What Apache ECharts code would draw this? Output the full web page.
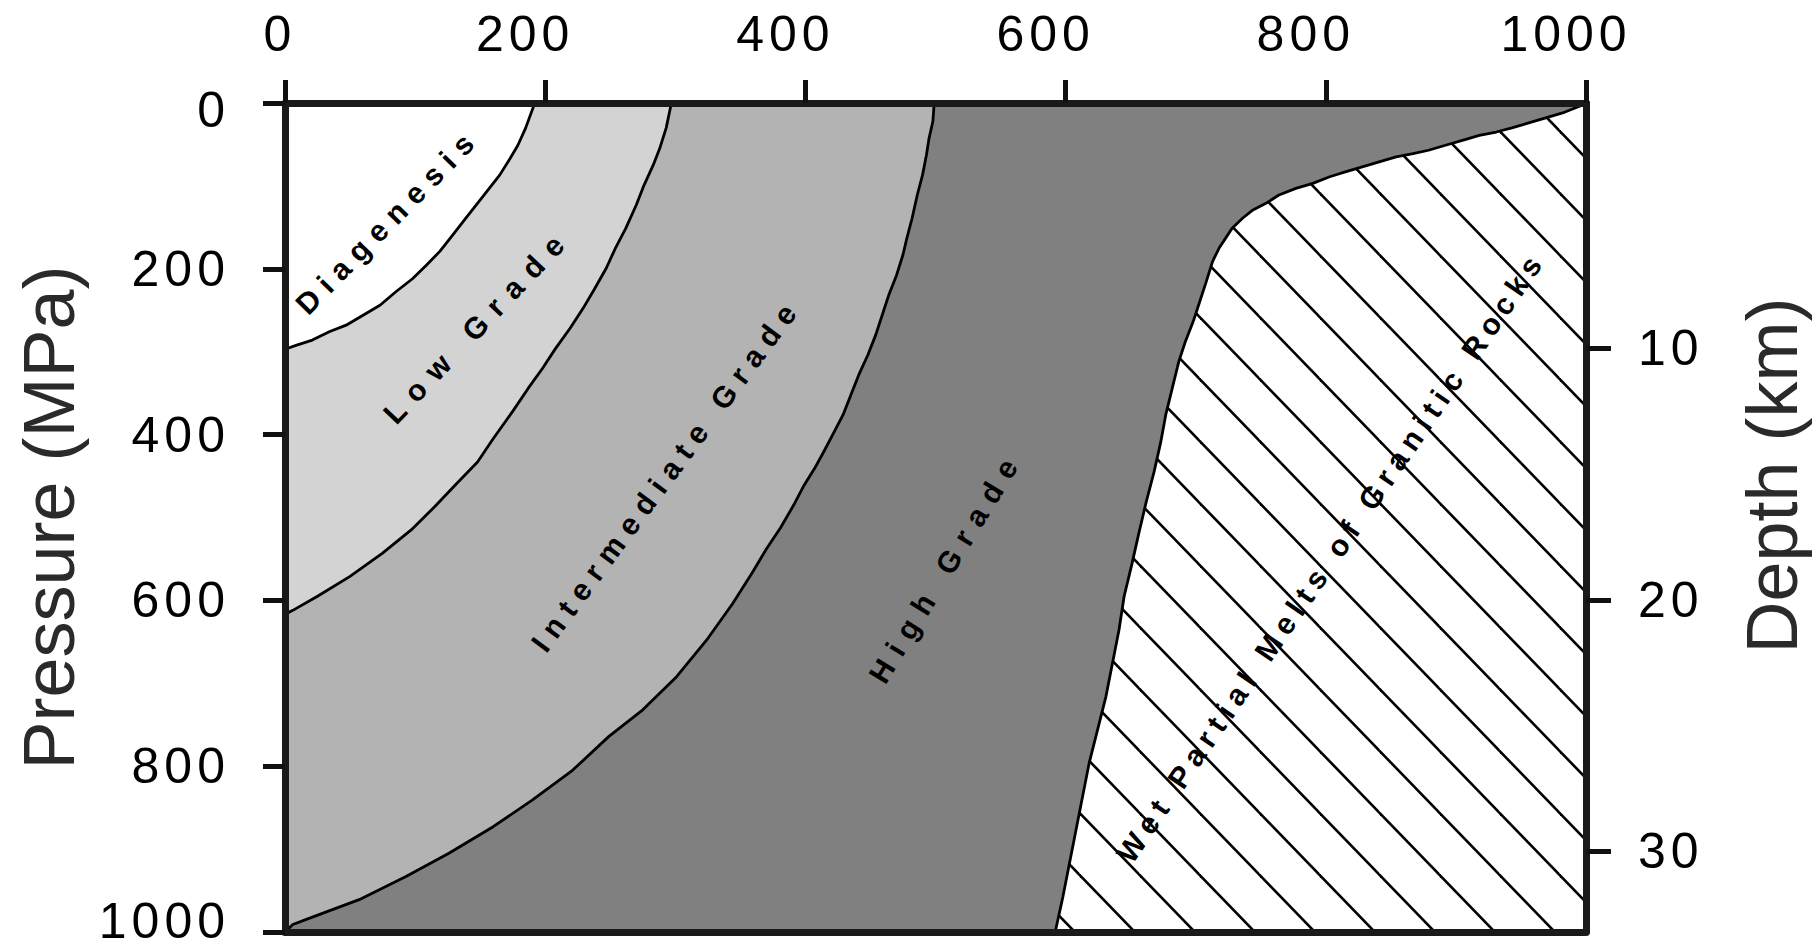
<!DOCTYPE html>
<html>
<head>
<meta charset="utf-8">
<script src="https://cdn.jsdelivr.net/npm/echarts@6/dist/echarts.min.js"></script>
<style>
  html, body { margin: 0; padding: 0; background: #fff; }
  #chart { width: 1816px; height: 950px; }
</style>
</head>
<body>
<div id="chart"></div>
<script>
// Axis ticks
const tempTicks = [0, 200, 400, 600, 800, 1000];       // °C, top axis
const pressureTicks = [0, 200, 400, 600, 800, 1000];   // MPa, left axis
const depthTicks = [10, 20, 30];                       // km, right axis

// Facies boundaries as [temperature °C, pressure MPa], from the top edge downward
const diagenesisLimit = [
  [192, 0], [185, 30], [179, 51], [173, 67], [165, 87], [157, 103], [149, 119],
  [139, 139], [129, 159], [119, 179], [109, 195], [98, 212], [85, 228], [73, 244],
  [60, 256], [47, 268], [34, 276], [21, 286], [9, 292], [0, 297]
];
const lowGradeLimit = [
  [297, 0], [293, 30], [288, 55], [283, 75], [276, 99], [270, 123], [262, 151],
  [254, 175], [247, 199], [238, 224], [229, 248], [219, 272], [208, 296], [198, 320],
  [187, 344], [175, 372], [160, 405], [148, 433], [132, 459], [115, 487], [97, 515],
  [75, 543], [50, 571], [25, 595], [6, 612], [0, 617]
];
const intermediateLimit = [
  [499, 0], [498, 22], [495, 43], [493, 63], [490, 87], [486, 111], [482, 139],
  [478, 163], [475, 183], [470, 208], [464, 232], [459, 256], [454, 280], [448, 304],
  [441, 328], [435, 352], [429, 376], [421, 400], [414, 421], [407, 441], [399, 461],
  [391, 485], [381, 512], [370, 538], [359, 567], [344, 604], [324, 648], [301, 692],
  [275, 732], [249, 764], [221, 805], [190, 841], [160, 873], [126, 905], [93, 933],
  [57, 961], [21, 982], [6, 991], [0, 1000]
];
// Wet granite solidus: onset of partial melting
const graniteSolidus = [
  [1000, 0], [995, 4], [982, 12], [969, 18], [956, 24], [943, 30], [931, 35],
  [918, 39], [905, 45], [892, 51], [879, 57], [867, 61], [854, 65], [841, 71],
  [828, 77], [815, 83], [803, 89], [790, 97], [777, 103], [764, 111], [754, 121],
  [744, 129], [736, 139], [728, 151], [723, 163], [718, 175], [713, 191], [708, 216],
  [703, 240], [698, 264], [692, 288], [687, 312], [682, 344], [677, 376], [673, 410],
  [668, 445], [662, 481], [656, 521], [651, 556], [645, 595], [641, 636], [631, 716],
  [618, 797], [608, 877], [598, 957], [592, 1000]
];

// Field names, label anchor [°C, MPa] and text angle (degrees)
const regionNames = ['Diagenesis', 'Low Grade', 'Intermediate Grade', 'High Grade',
  'Wet Partial Melts of Granitic Rocks'];
const regionLabelAt = [[79, 142], [148, 268], [293, 448], [508, 559], [804, 547]];
const regionLabelAngle = [45.5, 46.5, 53.5, 58.5, 55.6];
const regionLetterSpacing = [9, 11.5, 8.8, 10.5, 6.8];

// Filled fields, painted back to front
const fillColors = ['#808080', '#b3b3b3', '#d3d3d3', '#ffffff'];
const fieldPolygons = [
  [[0, 0]].concat(graniteSolidus, [[0, 1000]]),   // high grade
  [[0, 0]].concat(intermediateLimit),             // intermediate grade
  [[0, 0]].concat(lowGradeLimit),                 // low grade
  [[0, 0]].concat(diagenesisLimit),               // diagenesis
  graniteSolidus.concat([[1000, 1000]])           // partial melting field
];

// Diagonal hatching tile for the melt field
function hatchTile() {
  const w = 60, h = 62, c = 7.3;
  const cv = document.createElement('canvas');
  cv.width = w; cv.height = h;
  const ctx = cv.getContext('2d');
  ctx.fillStyle = '#ffffff';
  ctx.fillRect(0, 0, w, h);
  ctx.strokeStyle = '#000000';
  ctx.lineWidth = 2.6;
  for (let k = -2; k <= 2; k++) {
    ctx.beginPath();
    ctx.moveTo(-w, c + k * h - h);
    ctx.lineTo(2 * w, c + k * h + 2 * h);
    ctx.stroke();
  }
  return cv;
}
const hatch = { image: hatchTile(), repeat: 'repeat' };

const axisFont = "'Liberation Sans', Arial, sans-serif";
const axisLineStyle = { color: '#1a1a1a', width: 7 };
const tickStyle = { color: '#111', width: 5 };
const tickText = { fontSize: 50, color: '#000', fontFamily: axisFont, lineHeight: 34 };

const boundarySeries = [diagenesisLimit, lowGradeLimit, intermediateLimit, graniteSolidus]
  .map(pts => ({
    type: 'line',
    data: pts,
    showSymbol: false,
    symbol: 'none',
    z: 3,
    lineStyle: { color: '#000', width: 2.8 },
    silent: true
  }));

const option = {
  animation: false,
  backgroundColor: '#ffffff',
  grid: { left: 285, right: 230, top: 103, bottom: 18, containLabel: false, outerBoundsMode: 'none' },
  xAxis: [
    {
      type: 'value', position: 'top', min: 0, max: 1000, interval: 200, z: 10,
      axisLine: { show: true, lineStyle: axisLineStyle },
      axisTick: { show: true, length: 23, lineStyle: tickStyle },
      axisLabel: Object.assign({}, tickText, {
        margin: 52, customValues: tempTicks,
        formatter: v => (v === 0 ? '{first|0}' : '{num|' + v + '}'),
        rich: {
          first: Object.assign({ padding: [0, 10, 0, 0] }, tickText),
          num: Object.assign({ padding: [0, 40, 0, 0] }, tickText)
        }
      }),
      splitLine: { show: false }
    },
    {
      type: 'value', position: 'bottom', min: 0, max: 1000, z: 10,
      axisLine: { show: true, onZero: false, lineStyle: axisLineStyle },
      axisTick: { show: false }, axisLabel: { show: false }, splitLine: { show: false }
    }
  ],
  yAxis: [
    {
      type: 'value', position: 'left', inverse: true, min: 0, max: 1000, interval: 200, z: 10,
      name: 'Pressure (MPa)', nameLocation: 'middle', nameRotate: 90, nameGap: 200,
      nameMoveOverlap: false,
      nameTextStyle: { fontSize: 72, color: '#2a2a2a', fontFamily: axisFont },
      axisLine: { show: true, onZero: false, lineStyle: axisLineStyle },
      axisTick: { show: true, length: 22, lineStyle: tickStyle },
      axisLabel: Object.assign({}, tickText, {
        margin: 55, customValues: pressureTicks,
        formatter: v => (v === 0 ? '{top|0}' : v === 1000 ? '{bottom|1000}' : String(v)),
        rich: {
          top: Object.assign({ padding: [14, 0, 0, 0] }, tickText),
          bottom: Object.assign({ padding: [0, 0, 22, 0] }, tickText)
        }
      }),
      splitLine: { show: false }
    },
    {
      type: 'value', position: 'right', inverse: true, min: 0.25, max: 33.2, z: 10,
      name: 'Depth (km)', nameLocation: 'middle', nameRotate: 90, nameGap: 150,
      nameMoveOverlap: false,
      nameTextStyle: { fontSize: 72, color: '#2a2a2a', fontFamily: axisFont, padding: [0, 0, 0, 84] },
      axisLine: { show: true, onZero: false, lineStyle: axisLineStyle },
      axisTick: { show: true, length: 25, lineStyle: tickStyle, customValues: depthTicks },
      axisLabel: Object.assign({}, tickText, {
        margin: 52, customValues: depthTicks, formatter: v => String(v)
      }),
      splitLine: { show: false }
    }
  ],
  series: [
    {
      type: 'custom',
      name: 'fields',
      coordinateSystem: 'cartesian2d',
      xAxisIndex: 0, yAxisIndex: 0,
      z: 1, silent: true,
      data: fieldPolygons.map((_, i) => [i, 0]),
      renderItem: function (params, api) {
        const i = params.dataIndex;
        const pts = fieldPolygons[i].map(p => api.coord(p));
        return {
          type: 'polygon',
          shape: { points: pts },
          style: { fill: i < fillColors.length ? fillColors[i] : hatch, stroke: null }
        };
      }
    },
    ...boundarySeries,
    {
      type: 'custom',
      name: 'labels',
      coordinateSystem: 'cartesian2d',
      xAxisIndex: 0, yAxisIndex: 0,
      z: 4, silent: true,
      data: regionNames.map((_, i) => [i, 0]),
      renderItem: function (params, api) {
        const i = params.dataIndex;
        const p = api.coord(regionLabelAt[i]);
        return {
          type: 'text',
          x: p[0], y: p[1],
          rotation: regionLabelAngle[i] * Math.PI / 180,
          style: {
            text: regionNames[i],
            fill: '#000',
            fontSize: 30,
            fontWeight: 'bold',
            fontFamily: axisFont,
            align: 'center', verticalAlign: 'middle',
            textAlign: 'center', textVerticalAlign: 'middle'
          }
        };
      }
    }
  ]
};

const dom = document.getElementById('chart');
const chart = echarts.init(dom, null, { renderer: 'svg' });
chart.setOption(option);

// Open up the lettering: field names widely, tick numbers slightly
const tickStrings = new Set(tempTicks.concat(pressureTicks, depthTicks).map(String));
function spaceLettering() {
  dom.querySelectorAll('text').forEach(t => {
    const s = t.textContent;
    const i = regionNames.indexOf(s);
    if (i >= 0) t.setAttribute('letter-spacing', regionLetterSpacing[i]);
    else if (tickStrings.has(s)) t.setAttribute('letter-spacing', 5);
  });
}
spaceLettering();
chart.on('finished', spaceLettering);
</script>
</body>
</html>
